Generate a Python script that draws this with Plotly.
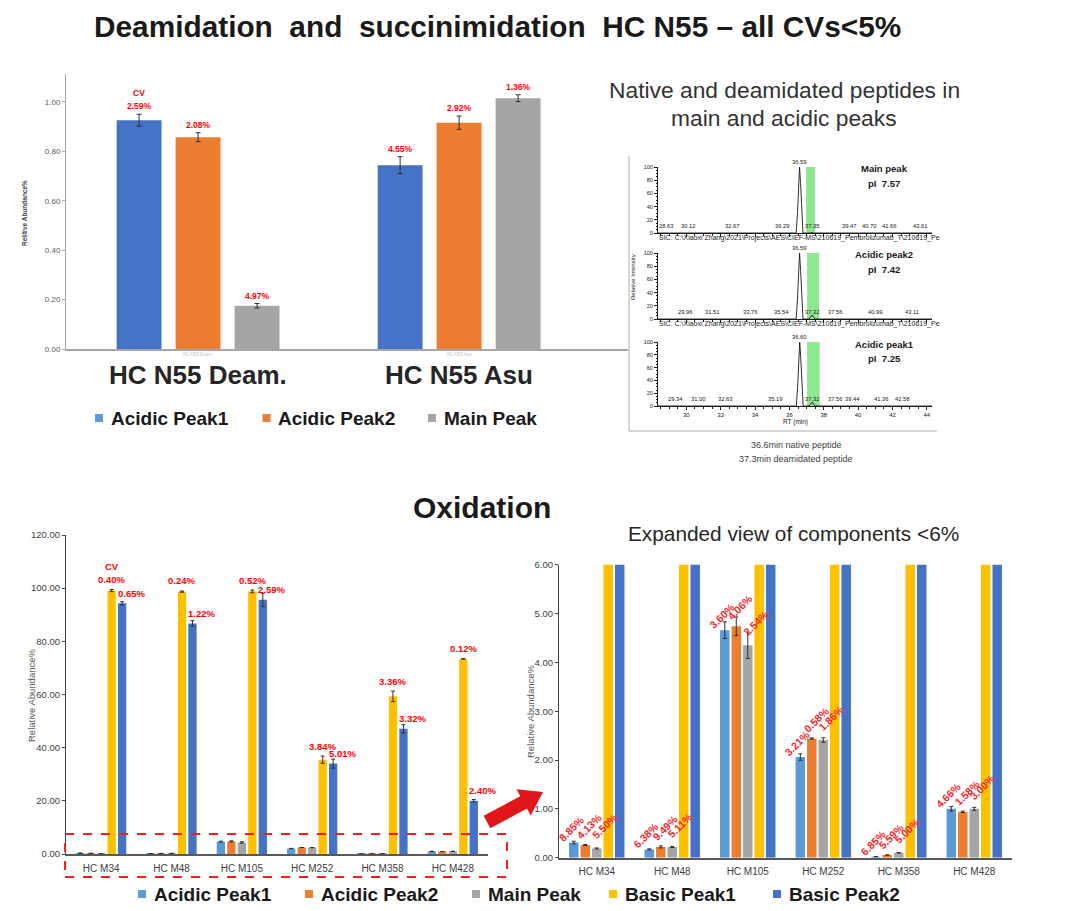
import plotly.graph_objects as go

# The page body has an 8px margin: the figure is sized and placed so that
# page pixel (x, y) maps onto paper coordinates below.
FW, FH = 1072, 903


def px(x):
    return (x - 8) / FW


def py(y):
    return 1 - (y - 8) / FH


# ---------------- DATA ----------------
# Top: deamidation / succinimidation HC N55
n55_categories = ["HC N55 Deam.", "HC N55 Asu"]
n55_acidic1 = [0.926, 0.744]
n55_acidic2 = [0.857, 0.916]
n55_main = [0.175, 1.015]
n55_acidic1_sd = [0.024, 0.034]
n55_acidic2_sd = [0.018, 0.027]
n55_main_sd = [0.009, 0.014]
n55_acidic1_cv = ["2.59%", "4.55%"]
n55_acidic2_cv = ["2.08%", "2.92%"]
n55_main_cv = ["4.97%", "1.36%"]
n55_yticks = [0.0, 0.2, 0.4, 0.6, 0.8, 1.0]

# Oxidation
ox_categories = ["HC M34", "HC M48", "HC M105", "HC M252", "HC M358", "HC M428"]
ox_acidic1 = [0.31, 0.17, 4.66, 2.06, 0.02, 1.00]
ox_acidic2 = [0.26, 0.22, 4.74, 2.44, 0.055, 0.94]
ox_main = [0.19, 0.22, 4.35, 2.41, 0.10, 1.00]
ox_basic1 = [99.1, 98.7, 98.8, 35.5, 59.3, 73.4]
ox_basic2 = [94.3, 86.7, 95.6, 34.0, 47.1, 20.0]
ox_acidic1_sd = [0.027, 0.011, 0.17, 0.066, 0.002, 0.047]
ox_acidic2_sd = [0.011, 0.021, 0.19, 0.014, 0.003, 0.015]
ox_main_sd = [0.010, 0.011, 0.27, 0.045, 0.005, 0.03]
ox_basic1_sd = [0.40, 0.24, 0.51, 1.36, 1.99, 0.09]
ox_basic2_sd = [0.61, 1.06, 2.48, 1.70, 1.56, 0.48]
ox_acidic1_cv = ["8.85%", "6.38%", "3.60%", "3.21%", "6.85%", "4.66%"]
ox_acidic2_cv = ["4.13%", "9.49%", "4.06%", "0.58%", "5.59%", "1.58%"]
ox_main_cv = ["5.50%", "5.11%", "2.54%", "1.86%", "5.00%", "3.00%"]
ox_basic1_cv = ["0.40%", "0.24%", "0.52%", "3.84%", "3.36%", "0.12%"]
ox_basic2_cv = ["0.65%", "1.22%", "2.59%", "5.01%", "3.32%", "2.40%"]
ox_yticks_full = [0, 20, 40, 60, 80, 100, 120]
ox_yticks_zoom = [0, 1, 2, 3, 4, 5, 6]

# Chromatograms (extracted ion chromatograms)
chrom_names = ["Main peak", "Acidic peak2", "Acidic peak1"]
chrom_pi = ["pI  7.57", "pI  7.42", "pI  7.25"]
chrom_main_rt = [28.35, 36.39, 36.47, 36.53, 36.59, 36.65, 36.71, 36.79, 37.25, 37.32, 37.40, 44.30]
chrom_main_int = [0, 0, 30, 75, 100, 75, 30, 0, 0, 1, 0, 0]
chrom_acid2_rt = [28.35, 36.39, 36.47, 36.53, 36.59, 36.65, 36.71, 36.79, 37.15, 37.25, 37.32, 37.40, 37.50, 44.30]
chrom_acid2_int = [0, 0, 30, 75, 100, 75, 30, 0, 0, 4, 6, 3, 0, 0]
chrom_acid1_rt = [28.35, 36.40, 36.48, 36.54, 36.60, 36.66, 36.72, 36.80, 37.15, 37.25, 37.32, 37.40, 37.50, 44.30]
chrom_acid1_int = [0, 0, 30, 75, 100, 75, 30, 0, 0, 4, 6, 3, 0, 0]
chrom_apex = ["36.59", "36.59", "36.60"]
chrom_main_labels = ["28.63", "30.12", "32.67", "36.29", "37.35", "39.47", "40.70", "41.66", "43.61"]
chrom_acid2_labels = ["29.96", "31.51", "33.76", "35.54", "37.32", "37.56", "40.99", "43.11"]
chrom_acid1_labels = ["29.34", "31.00", "32.63", "35.19", "37.32", "37.56", "39.44", "41.36", "42.58", "44.34"]
chrom_window = [(36.97, 37.50), (37.03, 37.73), (37.03, 37.76)]
chrom_xticks = [30, 32, 34, 36, 38, 40, 42, 44]
chrom_yticks = [0, 20, 40, 60, 80, 100]

# Legends
top_legend_names = ["Acidic Peak1", "Acidic Peak2", "Main Peak"]
ox_legend_names = ["Acidic Peak1", "Acidic Peak2", "Main Peak", "Basic Peak1", "Basic Peak2"]

# ---------------- STYLE ----------------
BLUE = "#4472C4"
LBLUE = "#5B9BD5"
ORANGE = "#ED7D31"
GREY = "#A5A5A5"
YELLOW = "#FFC000"
RED = "#FF0000"
AX = "#595959"
FONT = "Liberation Sans, Arial, sans-serif"
NARROW = "Liberation Sans Narrow, Arial Narrow, Liberation Sans, sans-serif"

fig = go.Figure()
ann = []
shapes = []


def note(**kw):
    kw.setdefault("showarrow", False)
    kw.setdefault("xanchor", "center")
    kw.setdefault("yanchor", "middle")
    ann.append(kw)


def pnote(x, y, text, **kw):
    note(x=px(x), y=py(y), xref="paper", yref="paper", text=text, **kw)


def legend_row(names, colors, square_x, y, size=19):
    for name, col, sx in zip(names, colors, square_x):
        shapes.append(dict(type="rect", xref="paper", yref="paper", x0=px(sx - 4), x1=px(sx + 4),
                           y0=py(y + 4), y1=py(y - 4), fillcolor=col, line=dict(width=0)))
        pnote(sx + 9.5, y, "<b>%s</b>" % name, xanchor="left",
              font=dict(family=FONT, size=size, color="#1A1A1A"))


# ---------------- TOP-LEFT BAR CHART ----------------
TOP_PPU = 261.0
top_w, top_step = 0.172, 0.226
top_series = [
    ("Acidic Peak1", n55_acidic1, n55_acidic1_sd, n55_acidic1_cv, BLUE),
    ("Acidic Peak2", n55_acidic2, n55_acidic2_sd, n55_acidic2_cv, ORANGE),
    ("Main Peak", n55_main, n55_main_sd, n55_main_cv, GREY),
]
for i, (name, vals, sd, cv, col) in enumerate(top_series):
    c = (i - 1) * top_step
    fig.add_trace(go.Bar(
        x=n55_categories, y=vals, name=name, width=top_w, offset=c - top_w / 2,
        marker=dict(color=col, line=dict(width=0)),
        error_y=dict(type="data", array=sd, color="#303030", thickness=1, width=2.5),
        xaxis="x", yaxis="y", showlegend=False))
    for cat, v, s, t in zip(n55_categories, vals, sd, cv):
        note(x=cat, y=v + s, xref="x", yref="y", text="<b>%s</b>" % t,
             xshift=c * TOP_PPU, yshift=8, font=dict(family=NARROW, size=8.5, color=RED))
note(x=n55_categories[0], y=n55_acidic1[0] + n55_acidic1_sd[0], xref="x", yref="y",
     text="<b>CV</b>", xshift=-top_step * TOP_PPU, yshift=21,
     font=dict(family=NARROW, size=8.5, color=RED))
for cat in n55_categories:
    note(x=cat, xref="x", y=py(375), yref="paper", text="<b>%s</b>" % cat,
         font=dict(family=FONT, size=26, color="#262626"))
pnote(24, 213, "<b>Relitive Abundance%</b>", textangle=-90,
      font=dict(family=FONT, size=6.5, color="#404040"))
legend_row(top_legend_names, [LBLUE, ORANGE, GREY], [99, 266.5, 432], 418)

# ---------------- OXIDATION BAR CHARTS ----------------
ox_series = [
    ("Acidic Peak1", ox_acidic1, ox_acidic1_sd, LBLUE),
    ("Acidic Peak2", ox_acidic2, ox_acidic2_sd, ORANGE),
    ("Main Peak", ox_main, ox_main_sd, GREY),
    ("Basic Peak1", ox_basic1, ox_basic1_sd, YELLOW),
    ("Basic Peak2", ox_basic2, ox_basic2_sd, BLUE),
]
BL_PPU = 422 / 6.0
BR_PPU = 453 / 6.0
bl_w, bl_step = 0.118, 0.149
br_w, br_step = 0.126, 0.152
for i, (name, vals, sd, col) in enumerate(ox_series):
    for ax, w, step in [("2", bl_w, bl_step), ("3", br_w, br_step)]:
        c = (i - 2) * step
        fig.add_trace(go.Bar(
            x=ox_categories, y=vals, name=name, width=w, offset=c - w / 2,
            marker=dict(color=col, line=dict(width=0)),
            error_y=dict(type="data", array=sd, color="#303030", thickness=1, width=2),
            xaxis="x" + ax, yaxis="y" + ax, showlegend=False))
legend_row(ox_legend_names, [s[3] for s in ox_series], [142, 309, 476, 613, 777], 894)

# CV labels, full chart
for cat, v, s, t in zip(ox_categories, ox_basic1, ox_basic1_sd, ox_basic1_cv):
    note(x=cat, y=v + s, xref="x2", yref="y2", text="<b>%s</b>" % t,
         xshift=bl_step * BL_PPU, yshift=10, font=dict(family=NARROW, size=9.5, color=RED))
for cat, v, t in zip(ox_categories, ox_basic2, ox_basic2_cv):
    note(x=cat, y=v, xref="x2", yref="y2", text="<b>%s</b>" % t,
         xshift=2 * bl_step * BL_PPU + 9, yshift=10, font=dict(family=NARROW, size=9.5, color=RED))
note(x=ox_categories[0], y=ox_basic1[0] + ox_basic1_sd[0], xref="x2", yref="y2",
     text="<b>CV</b>", xshift=bl_step * BL_PPU, yshift=23, font=dict(family=NARROW, size=9.5, color=RED))

# CV labels, expanded chart (rotated)
rot_specs = [(ox_acidic1, ox_acidic1_cv, -2, -3, 14), (ox_acidic2, ox_acidic2_cv, -1, 4, 19),
             (ox_main, ox_main_cv, 0, 8, 22)]
for vals, cvs, idx, dx, dy in rot_specs:
    for cat, v, t in zip(ox_categories, vals, cvs):
        note(x=cat, y=v, xref="x3", yref="y3", text="<b>%s</b>" % t, textangle=-45,
             xshift=idx * br_step * BR_PPU + dx, yshift=dy,
             font=dict(family=NARROW, size=10.5, color="#F0282D"))

# titles / texts
pnote(497, 27, "<b>Deamidation  and  succinimidation  HC N55 – all CVs&lt;5%</b>",
      font=dict(family=FONT, size=29.8, color="#1A1A1A"))
pnote(482, 507, "<b>Oxidation</b>", font=dict(family=FONT, size=30, color="#1A1A1A"))
pnote(793, 533, "Expanded view of components &lt;6%", font=dict(family=FONT, size=20.8, color="#262626"))
pnote(784, 90, "Native and deamidated peptides in", font=dict(family=FONT, size=22.8, color="#333333"))
pnote(784, 118, "main and acidic peaks", font=dict(family=FONT, size=22.8, color="#333333"))
pnote(796, 445, "36.6min native peptide", font=dict(family=FONT, size=9, color="#404040"))
pnote(796, 459, "37.3min deamidated peptide", font=dict(family=FONT, size=9, color="#404040"))
pnote(31, 695, "Relative Abundance%", textangle=-90, font=dict(family=FONT, size=9.5, color=AX))
pnote(530, 711, "Relative Abundance%", textangle=-90, font=dict(family=FONT, size=9.5, color=AX))

# ---------------- CHROMATOGRAMS ----------------
chrom_traces = [(chrom_main_rt, chrom_main_int, chrom_main_labels),
                (chrom_acid2_rt, chrom_acid2_int, chrom_acid2_labels),
                (chrom_acid1_rt, chrom_acid1_int, chrom_acid1_labels)]
panel_px = [(233, 167), (319, 253), (406, 342)]
label_xshift = {"36.29": -12, "37.56": 19, "44.34": -6, "39.44": 4, "32.63": -6, "31.00": -5,
                "41.66": 3, "40.70": -1, "28.63": 4}
sic = "SIC: C:\\Xiaoxi Zhang\\2021\\Projects\\AES\\CIEF-MS\\210619_Pembrolizumab_T\\210619_Pe"
for k, (rt, inten, labels) in enumerate(chrom_traces):
    xa, ya = "x%d" % (k + 4), "y%d" % (k + 4)
    w0, w1 = chrom_window[k]
    shapes.append(dict(type="rect", xref=xa, yref=ya, x0=w0, x1=w1, y0=0, y1=100,
                       fillcolor="#8FE88F", line=dict(width=0), layer="below"))
    fig.add_trace(go.Scatter(x=rt, y=inten, mode="lines", line=dict(color="#1A1A1A", width=0.9),
                             xaxis=xa, yaxis=ya, showlegend=False, name=chrom_names[k]))
    for lab in labels:
        note(x=float(lab), y=3, xref=xa, yref=ya, text=lab, yanchor="bottom",
             xshift=label_xshift.get(lab, 0), font=dict(family=FONT, size=5.8, color="#1A1A1A"))
    note(x=float(chrom_apex[k]), y=100, xref=xa, yref=ya, text=chrom_apex[k], yanchor="bottom",
         font=dict(family=FONT, size=5.8, color="#1A1A1A"))
    top = panel_px[k][1]
    pnote(884, top + 2, "<b>%s</b>" % chrom_names[k], font=dict(family=FONT, size=9.5, color="#1A1A1A"))
    pnote(884, top + 16, "<b>%s</b>" % chrom_pi[k], font=dict(family=FONT, size=9.5, color="#1A1A1A"))
    if k < 2:
        pnote(657, panel_px[k][0] + 5, sic, xanchor="left", font=dict(family=FONT, size=7, color="#1A1A1A"))
pnote(633, 277, "Relative Intensity", textangle=-90, font=dict(family=FONT, size=6, color="#1A1A1A"))
pnote(795, 422, "RT (min)", font=dict(family=FONT, size=6.5, color="#1A1A1A"))

# frame around the chromatogram panel
shapes.append(dict(type="line", xref="paper", yref="paper", x0=px(629), x1=px(629), y0=py(156), y1=py(431),
                   line=dict(color="#C8C8C8", width=1.5)))
shapes.append(dict(type="line", xref="paper", yref="paper", x0=px(629), x1=px(937), y0=py(431), y1=py(431),
                   line=dict(color="#C8C8C8", width=1.5)))

# red dashed box + arrow
shapes.append(dict(type="rect", xref="paper", yref="paper", x0=px(65), x1=px(507), y0=py(877), y1=py(834),
                   line=dict(color="#FF1A1A", width=2, dash="dash")))
arrow_pts = [(490.3, 828.2), (526.9, 808.6), (530.7, 815.6), (543, 792), (516.5, 789.2),
             (520.3, 796.2), (483.7, 815.8)]
path = "M " + " L ".join("%.5f,%.5f" % (px(a), py(b)) for a, b in arrow_pts) + " Z"
shapes.append(dict(type="path", xref="paper", yref="paper", path=path, fillcolor="#E0161B",
                   line=dict(width=0)))


# ---------------- AXES ----------------
def chrom_xaxis(k):
    return dict(domain=[px(658), px(932)], range=[28.35, 44.3], anchor="y%d" % (k + 4),
                showline=True, linecolor="#1A1A1A", linewidth=1, ticks="outside", ticklen=3,
                tickcolor="#1A1A1A", tickvals=chrom_xticks, showticklabels=(k == 2),
                tickfont=dict(family=FONT, size=6, color="#1A1A1A"),
                minor=dict(dtick=0.5, tick0=30, ticks="outside", ticklen=1.5, tickcolor="#1A1A1A"),
                showgrid=False, zeroline=False, fixedrange=True, automargin=False)


def chrom_yaxis(k):
    b, t = panel_px[k]
    return dict(domain=[py(b), py(t)], range=[0, 100], anchor="x%d" % (k + 4),
                showline=True, linecolor="#1A1A1A", linewidth=1, ticks="outside", ticklen=3,
                tickcolor="#1A1A1A", tickvals=chrom_yticks,
                tickfont=dict(family=FONT, size=5.5, color="#1A1A1A"),
                minor=dict(dtick=5, ticks="outside", ticklen=1.5, tickcolor="#1A1A1A"),
                showgrid=False, zeroline=False, fixedrange=True, automargin=False)


fig.update_layout(
    width=FW, height=FH, margin=dict(l=0, r=0, t=0, b=0, autoexpand=False),
    paper_bgcolor="white", plot_bgcolor="rgba(0,0,0,0)", showlegend=False,
    barmode="overlay", font=dict(family=FONT),
    xaxis=dict(domain=[px(66), px(628)], range=[-0.506, 1.647], type="category", anchor="y",
               showline=True, linecolor="#A6A6A6", linewidth=1.5, ticks="", showticklabels=True,
               tickfont=dict(family=FONT, size=4.5, color="#C4C4C4"),
               showgrid=False, zeroline=False, automargin=False),
    yaxis=dict(domain=[py(349), py(74)], range=[0, 1.113], anchor="x", showline=True,
               linecolor="#A6A6A6", linewidth=1, ticks="outside", ticklen=3, tickcolor="#A6A6A6",
               tickvals=n55_yticks, tickformat=".2f", tickfont=dict(family=FONT, size=8, color=AX),
               showgrid=False, zeroline=False, automargin=False),
    xaxis2=dict(domain=[px(66), px(488)], range=[-0.5, 5.5], type="category", anchor="y2",
                showline=True, linecolor="#595959", linewidth=1.5, ticks="", ticklabelstandoff=4,
                tickfont=dict(family=NARROW, size=10, color="#404040"), showgrid=False, zeroline=False,
                automargin=False),
    yaxis2=dict(domain=[py(854), py(535)], range=[0, 120], anchor="x2", showline=True,
                linecolor="#404040", linewidth=1, ticks="outside", ticklen=3, tickcolor="#404040",
                tickvals=ox_yticks_full, tickformat=".2f", tickfont=dict(family=NARROW, size=9.5, color="#404040"),
                showgrid=False, zeroline=False, automargin=False),
    xaxis3=dict(domain=[px(559), px(1012)], range=[-0.5, 5.5], type="category", anchor="y3",
                showline=True, linecolor="#595959", linewidth=1.5, ticks="", ticklabelstandoff=4,
                tickfont=dict(family=NARROW, size=10, color="#404040"), showgrid=False, zeroline=False,
                automargin=False),
    yaxis3=dict(domain=[py(857.7), py(564.7)], range=[0, 6], anchor="x3", showline=True,
                linecolor="#404040", linewidth=1, ticks="outside", ticklen=3, tickcolor="#404040",
                tickvals=ox_yticks_zoom, tickformat=".2f", tickfont=dict(family=NARROW, size=9.5, color="#404040"),
                showgrid=False, zeroline=False, automargin=False),
    xaxis4=chrom_xaxis(0), yaxis4=chrom_yaxis(0),
    xaxis5=chrom_xaxis(1), yaxis5=chrom_yaxis(1),
    xaxis6=chrom_xaxis(2), yaxis6=chrom_yaxis(2),
    annotations=ann, shapes=shapes,
)

fig.write_html("out.html")
